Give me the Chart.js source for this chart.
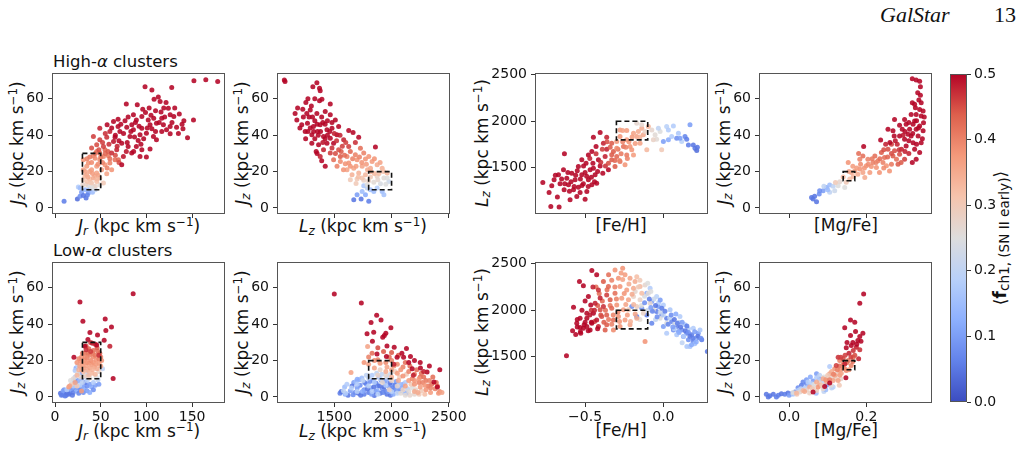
<!DOCTYPE html>
<html>
<head>
<meta charset="utf-8">
<script src="https://cdn.jsdelivr.net/npm/chart.js@4.4.1/dist/chart.umd.min.js"></script>
<style>
  body { margin: 0; background: #fff; width: 1021px; height: 450px; position: relative; overflow: hidden;
         font-family: "DejaVu Sans", sans-serif; color: #111; }
  canvas { position: absolute; }
  .lbl { position: absolute; white-space: nowrap; font-size: 17px; line-height: 1; }
  .xl { transform: translateX(-50%); }
  .yl { transform: translate(-50%, -50%) rotate(-90deg); }
  .lbl sub { font-size: 70%; vertical-align: -0.25em; line-height: 0; }
  .lbl sup { font-size: 70%; vertical-align: 0.5em; line-height: 0; }
  .cbl sub { font-size: 80%; }
  .ttl { position: absolute; font-size: 16.5px; line-height: 1; white-space: nowrap; }
  .hdr { position: absolute; font-family: "Liberation Serif", serif; font-size: 22px; line-height: 1; }
</style>
</head>
<body>
<div class="hdr" style="left:880px;top:4px;font-style:italic">GalStar</div>
<div class="hdr" style="left:994px;top:4px">13</div>

<div class="ttl" style="left:53px;top:54px">High-<i>α</i> clusters</div>
<div class="ttl" style="left:53px;top:243px">Low-<i>α</i> clusters</div>

<div class="lbl xl" style="left:139px;top:218px"><i>J</i><sub><i>r</i></sub> (kpc km s<sup>−1</sup>)</div>
<div class="lbl xl" style="left:363px;top:218px"><i>L</i><sub><i>z</i></sub> (kpc km s<sup>−1</sup>)</div>
<div class="lbl xl" style="left:621px;top:217px">[Fe/H]</div>
<div class="lbl xl" style="left:846px;top:217px">[Mg/Fe]</div>
<div class="lbl xl" style="left:139px;top:423px"><i>J</i><sub><i>r</i></sub> (kpc km s<sup>−1</sup>)</div>
<div class="lbl xl" style="left:363px;top:423px"><i>L</i><sub><i>z</i></sub> (kpc km s<sup>−1</sup>)</div>
<div class="lbl xl" style="left:621px;top:422px">[Fe/H]</div>
<div class="lbl xl" style="left:846px;top:422px">[Mg/Fe]</div>

<div class="lbl yl" style="left:17px;top:143px"><i>J</i><sub><i>z</i></sub> (kpc km s<sup>−1</sup>)</div>
<div class="lbl yl" style="left:242px;top:143px"><i>J</i><sub><i>z</i></sub> (kpc km s<sup>−1</sup>)</div>
<div class="lbl yl" style="left:482px;top:143px"><i>L</i><sub><i>z</i></sub> (kpc km s<sup>−1</sup>)</div>
<div class="lbl yl" style="left:724px;top:143px"><i>J</i><sub><i>z</i></sub> (kpc km s<sup>−1</sup>)</div>
<div class="lbl yl" style="left:17px;top:332px"><i>J</i><sub><i>z</i></sub> (kpc km s<sup>−1</sup>)</div>
<div class="lbl yl" style="left:242px;top:332px"><i>J</i><sub><i>z</i></sub> (kpc km s<sup>−1</sup>)</div>
<div class="lbl yl" style="left:482px;top:332px"><i>L</i><sub><i>z</i></sub> (kpc km s<sup>−1</sup>)</div>
<div class="lbl yl" style="left:724px;top:332px"><i>J</i><sub><i>z</i></sub> (kpc km s<sup>−1</sup>)</div>

<div class="lbl yl cbl" style="left:1000px;top:238px;font-size:17px">⟨<b>f</b><sub>ch1, (SN II early)</sub>⟩</div>

<script>
// tick values
const jzTicks = [0, 20, 40, 60];
const lzTicks = [1500, 2000, 2500];
const jrTicks = [0, 50, 100, 150];
const feTicks = [-0.5, 0.0];
const mgTicks = [0.0, 0.2];
const fTicks = [0, 0.1, 0.2, 0.3, 0.4, 0.5];

// axis ranges
const jzRange = [-3.3, 74.2];
const lzRangeY = [1005, 2517];
const jrRange = [-3.3, 186];
const lzRangeX = [1000, 2510];
const feRange = [-0.82, 0.285];
const mgRange = [-0.078, 0.37];

// dashed selection boxes [x0, x1, y0, y1]
const jrBox = [30, 50, 10, 30];
const lzBox = [1800, 2000, 10, 20];
const feBox = [-0.3, -0.1, 1800, 2000];
const mgBox = [0.14, 0.17, 15, 20];

// ---- high-alpha clusters: [x, y, f] ----
const hiJrJz = [
  [9.9,3.7,.06],[24.5,4.9,.04],[27.4,6.4,.08],[34,5.5,.05],[29,8.6,.1],[33,10,.14],[36.5,8.2,.1],[41,8.6,.15],
  [25.5,11.5,.18],[27.4,11,.15],[38,10.4,.12],[35.4,7.1,.07],[31,6.9,.05],[44,10,.2],
  [49,12.8,.26],[42,11.9,.25],[36.5,12.2,.24],[30.3,12.8,.27],[39,14,.31],[44,12,.28],[34,13,.28],[40,11,.25],
  [31,15.5,.3],[35.4,14.6,.31],[40,13.7,.3],[45.6,14.6,.32],[32.8,17.4,.33],[38,15.9,.32],[43.8,17.4,.34],[49,16.5,.33],[53,13.7,.3],
  [31,26.5,.38],[36.5,24.7,.38],[42,28.7,.4],[49,26.5,.39],[54.7,23.8,.38],[45.6,22.9,.37],[60,24.7,.4],[65.7,26.5,.42],
  [53,28.3,.4],[38,20,.36],[45.6,19.2,.36],[51,21,.37],[56.6,18.8,.36],[42,16.5,.35],[34.7,18.3,.35],[31,21,.36],[62,21,.38],
  [34.7,22.9,.37],[49,30.2,.41],[43.8,27.4,.39],[58.4,28.7,.41],[69.3,26.5,.43],[54.7,32,.43],[45.6,31,.42],
  [57,22,.4],[52,25,.4],[47,24,.39],[40,25,.39],[38,28,.41],[35,27,.4],[44,30,.42],[50,28,.41],[55,30,.43],
  [41,19,.37],[36,17,.35],[47,18,.36],[40,21,.37],[33,20,.36],[46,16,.33],
  [40,33,.45],[42,39.3,.46],[49,37.5,.46],[45.6,34.7,.45],[53,33.8,.46],[56.6,38.9,.47],[60,42,.48],[49,43.9,.48],
  [52,36,.46],[48,32,.45],[58,31,.44],[66,29,.45],[70,25,.45],[60,27,.42],[59,35,.47],[55,41,.47],[68,34,.48],
  [98.5,66.7,.5],[106,64.9,.5],[127.7,66.2,.5],[78,57.2,.5],[90,56.7,.5],[96,54.3,.5],[108.4,59.8,.5],[115,58.5,.5],
  [121.5,58,.5],[110,53.4,.5],[116,52.7,.5],[124,54.8,.5],[126,51.2,.5],[130,50.3,.5],[136,51.6,.5],[69,48.8,.5],
  [85.8,51.2,.5],[95,50.3,.5],[102,48.4,.5],[151.5,48.4,.5],[133,44.4,.5],[140,43.5,.5],[139,46,.5],[145,38.6,.5],
  [126,40.8,.5],[118.6,45.7,.5],[111,46.6,.5],[106,43.5,.5],[100,41.1,.5],[107.7,39.3,.5],[93,40.2,.5],[85.8,43,.5],
  [78.5,44.4,.5],[71,42,.5],[64,47.5,.5],[64,36.6,.49],[73,35.6,.5],[80,33.8,.5],[89,33.8,.5],[95,32,.5],[104,32.4,.5],
  [83.9,30.2,.5],[93,28.3,.5],[100,28,.5],[74.8,28.3,.49],[67.5,32,.48],[62,30.2,.47],[73,23.8,.5],[82,39.3,.5],
  [91,37.1,.5],[111,37.5,.5],[116.8,42,.5],[65.7,38.9,.5],[69,44.8,.5],[57,45.7,.5],[76.6,48,.5],[84,45.7,.5],
  [89,48.4,.5],[108,49.3,.5],[99,52.5,.5],[116.8,49.3,.5],[104,45.7,.5],[126,44.8,.5],[95,43.9,.5],
  [66,40,.5],[70,37,.5],[75,41,.5],[79,36,.5],[83,42,.5],[87,39,.5],[92,45,.5],[97,38,.5],[101,44,.5],[105,51,.5],
  [110,42,.5],[114,47,.5],[120,50,.5],[122,43,.5],[128,47,.5],[131,55,.5],[88,47,.5],[80,50,.5],[72,46,.5],[94,35,.5],
  [86,31,.5],[78,31,.49],[62,44,.5],[113,61,.5],[119,55,.5],[141,48,.5],[135,41,.5],[103,55,.5],
  [152,70,.5],[165,70.5,.5],[178,69.5,.5]
];

const hiLzJz = [
  [1670,4.6,.05],[1699,7.3,.1],[1734,4.9,.05],[1801,3.7,.06],[1772,7.3,.12],[1743,9.1,.15],[1816,10,.15],[1874,11,.18],
  [1918,9.1,.15],[1933,7.3,.16],[1787,11,.2],[1845,9.1,.15],[1757,12.2,.17],
  [1640,15.5,.3],[1699,15.9,.3],[1757,15.2,.28],[1816,17,.3],[1874,17.4,.28],[1933,16.5,.26],[1977,14.6,.22],
  [1845,14.1,.26],[1903,13.3,.24],[1787,12.8,.25],[1743,16.5,.31],[1962,16.5,.25],[1950,13,.25],[1880,15.5,.27],
  [1800,15,.28],[1690,13.5,.3],
  [1611,28.3,.4],[1684,29.2,.4],[1757,30.2,.4],[1553,25.6,.39],[1626,24.7,.38],[1699,26.5,.38],[1772,26.9,.38],
  [1830,25.6,.37],[1611,21,.36],[1670,21.9,.36],[1743,22.9,.36],[1816,21.9,.35],[1874,23.8,.35],[1524,22.9,.4],
  [1713,19.2,.34],[1772,18.3,.33],[1655,18.3,.34],[1596,24.3,.38],[1494,26.5,.42],[1728,32.9,.42],[1801,28.3,.38],
  [1918,21.9,.34],[1962,19.2,.33],[1660,27,.4],[1720,28,.4],[1740,25,.38],[1780,24,.37],[1820,20,.35],[1850,19,.33],
  [1890,19,.32],[1640,23,.38],[1580,21,.38],[1690,23,.37],[1710,17,.32],[1790,21,.35],[1850,27,.38],[1900,25,.36],
  [1930,20,.32],[1590,29,.42],[1640,31,.43],[1560,31,.44],[1510,30,.45],
  [1064,70.4,.5],[1070,69.5,.5],[1348,68.9,.5],[1313,66.7,.5],[1371,65.8,.5],[1377,64.5,.5],[1392,59.8,.5],[1371,59,.5],
  [1252,58,.5],[1465,57.2,.5],[1158,52,.5],[1225,54.3,.5],[1290,53.9,.5],[1348,52,.5],[1421,53,.5],[1465,51.2,.5],
  [1509,48.4,.5],[1173,48.4,.5],[1216,45.7,.5],[1266,46.6,.5],[1318,44.8,.5],[1377,45.7,.5],[1436,43,.5],[1480,43.9,.5],
  [1538,44.8,.5],[1246,42,.5],[1304,40.2,.5],[1354,42,.5],[1406,39.3,.5],[1465,38.4,.5],[1523,40.2,.5],[1626,42.6,.5],
  [1664,41.5,.5],[1582,37.5,.48],[1494,35.6,.5],[1436,35.6,.5],[1363,34.7,.5],[1304,35.6,.5],[1342,31,.5],[1406,32,.48],
  [1465,30.2,.46],[1538,32,.45],[1626,33.8,.46],[1684,36,.47],[1713,38.9,.5],[1859,33.5,.5],[1421,22.9,.5],
  [1553,28.3,.44],[1377,28.3,.48],[1280,50,.5],[1330,48,.5],[1390,50,.5],[1250,38,.5],[1420,46,.5],[1480,47,.5],
  [1330,38,.5],[1400,36,.49],[1200,44,.5],[1300,56,.5],[1440,40,.5],
  [1230,50,.5],[1260,52,.5],[1270,42,.5],[1290,44,.5],[1310,50,.5],[1320,42,.5],[1350,46,.5],[1360,40,.5],[1380,42,.5],
  [1400,47,.5],[1420,38,.5],[1440,48,.5],[1460,42,.5],[1500,41,.48],[1520,37,.47],[1550,40,.48],[1570,34,.46],
  [1600,36,.46],[1480,33,.47],[1270,60,.5],[1330,60,.5],[1180,55,.5],[1350,30,.5],[1390,26,.5]
];

const hiFeLz = [
  [-0.77,1343,.5],[-0.73,1236,.5],[-0.719,1086,.5],[-0.666,1079,.5],[-0.632,1650,.5],[-0.698,1371,.5],[-0.67,1425,.5],
  [-0.713,1307,.5],[-0.66,1329,.5],[-0.617,1389,.5],[-0.638,1479,.5],[-0.606,1318,.5],[-0.574,1264,.5],[-0.564,1371,.5],
  [-0.585,1443,.5],[-0.543,1514,.5],[-0.521,1425,.5],[-0.511,1329,.5],[-0.479,1371,.5],[-0.553,1193,.5],[-0.677,1186,.5],
  [-0.543,1293,.5],[-0.489,1246,.5],[-0.457,1318,.5],[-0.436,1425,.5],[-0.447,1496,.5],[-0.468,1479,.5],[-0.404,1521,.5],
  [-0.415,1586,.5],[-0.494,1550,.5],[-0.521,1586,.5],[-0.404,1879,.5],[-0.447,1829,.5],[-0.43,1729,.5],[-0.457,1675,.5],
  [-0.479,1639,.5],[-0.362,1829,.48],[-0.383,1764,.48],[-0.362,1700,.48],[-0.372,1621,.48],[-0.387,1443,.5],
  [-0.351,1479,.5],[-0.426,1336,.5],[-0.5,1164,.5],[-0.596,1157,.5],[-0.634,1264,.5],[-0.532,1236,.5],
  [-0.69,1420,.5],[-0.65,1380,.5],[-0.63,1330,.5],[-0.61,1450,.5],[-0.59,1350,.5],[-0.57,1300,.5],[-0.56,1420,.5],
  [-0.55,1470,.5],[-0.53,1380,.5],[-0.52,1310,.5],[-0.5,1450,.5],[-0.49,1410,.5],[-0.48,1300,.5],[-0.46,1400,.5],
  [-0.45,1550,.5],[-0.44,1350,.5],[-0.42,1460,.5],[-0.6,1250,.5],[-0.51,1520,.5],[-0.47,1600,.48],[-0.43,1650,.47],
  [-0.4,1560,.47],[-0.39,1700,.46],[-0.37,1520,.47],[-0.36,1780,.45],
  [-0.33,1586,.44],[-0.319,1675,.44],[-0.298,1621,.43],[-0.351,1550,.45],[-0.277,1568,.42],[-0.234,1639,.41],
  [-0.309,1514,.44],[-0.255,1729,.42],[-0.33,1764,.44],[-0.34,1720,.44],[-0.33,1640,.44],[-0.31,1580,.43],
  [-0.29,1700,.42],[-0.27,1650,.41],[-0.28,1580,.4],[-0.23,1600,.4],
  [-0.298,1782,.38],[-0.277,1836,.38],[-0.234,1800,.37],[-0.213,1729,.38],[-0.191,1639,.37],[-0.245,1532,.38],
  [-0.149,1764,.36],[-0.17,1836,.36],[-0.191,1871,.36],[-0.128,1854,.35],[-0.138,1925,.35],[-0.096,1943,.34],
  [-0.234,1900,.37],[-0.277,1907,.37],[-0.202,1693,.38],[-0.26,1900,.36],[-0.106,1693,.33],[-0.16,1889,.35],[-0.298,1711,.39],
  [-0.26,1780,.4],[-0.24,1720,.4],[-0.22,1780,.38],[-0.2,1830,.37],[-0.18,1760,.37],[-0.15,1830,.34],
  [-0.117,1889,.28],[-0.074,1907,.27],[-0.053,1854,.26],[-0.043,1807,.26],[-0.021,1889,.25],[-0.17,1979,.27],
  [-0.138,1961,.27],[-0.011,1693,.3],[-0.064,1800,.28],
  [-0.032,1925,.2],[0.021,1943,.19],[0.032,1907,.18],[0.064,1950,.18],[0.096,1871,.17],[0.053,1836,.18],[0.117,1782,.19],
  [0.0,1782,.1],[0.085,1818,.08],[0.138,1836,.07],[0.17,1961,.1],[0.149,1807,.06],[0.16,1746,.06],[0.191,1746,.05],
  [0.202,1711,.05],[0.213,1686,.04],[0.217,1721,.05],[0.032,1800,.12],[0.106,1818,.1]
];

const hiMgJz = [
  [0.058,5.8,.05],[0.062,4.9,.05],[0.071,3.5,.05],[0.066,6.4,.05],[0.078,7.7,.08],[0.088,9.5,.1],[0.097,11.3,.12],
  [0.079,9.5,.08],[0.105,12.6,.15],[0.114,11.9,.2],[0.118,9.5,.22],[0.105,8.6,.2],[0.1,10,.15],[0.09,12,.2],
  [0.127,12.2,.25],[0.131,14.4,.27],[0.148,14.1,.3],[0.144,11.3,.25],[0.12,14,.3],[0.14,17,.33],
  [0.157,15.9,.32],[0.166,17.3,.33],[0.161,19.5,.35],[0.153,25,.38],[0.17,20.4,.36],[0.178,18.6,.35],[0.183,21.4,.38],
  [0.191,19.5,.36],[0.2,23.2,.38],[0.196,16.8,.35],[0.209,19.5,.37],[0.213,22.8,.38],[0.217,25,.4],[0.226,22.3,.38],
  [0.234,19.5,.38],[0.23,25.9,.4],[0.243,25,.4],[0.252,23.2,.38],[0.26,20.4,.38],[0.191,28.6,.42],[0.183,26.8,.4],
  [0.204,26.8,.4],[0.222,28.6,.42],[0.239,30.5,.44],[0.247,27.7,.42],[0.256,32.3,.45],[0.265,35,.46],[0.269,28.6,.44],
  [0.278,26.8,.42],[0.273,31.4,.45],[0.286,29.6,.45],[0.282,24.1,.44],[0.291,32.3,.48],[0.299,26.8,.46],
  [0.265,30,.45],[0.255,28,.43],[0.245,32,.45],[0.235,27,.42],[0.225,25,.4],[0.215,27,.41],[0.205,24,.39],
  [0.195,22,.38],[0.185,24,.39],[0.175,22,.37],[0.165,23,.37],[0.155,20,.36],[0.245,22,.39],[0.265,24,.41],
  [0.29,25,.44],[0.18,30,.42],
  [0.193,33.8,.5],[0.237,37.4,.5],[0.256,43.3,.5],[0.273,48.7,.5],[0.286,39.6,.5],[0.299,37.8,.5],[0.303,34.1,.5],
  [0.293,43.3,.5],[0.303,46,.5],[0.312,43.3,.5],[0.316,39.6,.5],[0.308,40.5,.5],[0.321,35.9,.5],[0.325,32.3,.5],
  [0.329,26.8,.5],[0.319,25,.5],[0.338,30.5,.5],[0.334,39.6,.5],[0.342,35.9,.5],[0.329,43.3,.5],[0.338,45.1,.5],
  [0.347,42.4,.5],[0.348,46.9,.5],[0.325,47.8,.5],[0.316,51.4,.5],[0.329,51.4,.5],[0.342,50.5,.5],[0.338,54.2,.5],
  [0.327,55.1,.5],[0.347,53.3,.5],[0.319,57.8,.5],[0.336,59.3,.5],[0.34,66.6,.5],[0.319,71,.5],[0.329,70.3,.5],
  [0.338,69.7,.5],[0.321,46,.5],[0.299,48.7,.5],[0.286,45.5,.5],[0.272,39.6,.5],[0.261,36,.5],[0.269,42.4,.5],
  [0.342,57.8,.5],[0.333,63.3,.5],[0.31,37,.5],[0.32,41,.5],[0.33,48,.5],[0.335,44,.5],[0.345,38,.5],[0.35,50,.5],
  [0.31,47,.5],[0.3,42,.5],[0.325,57,.5],[0.34,62,.5],[0.33,35,.5],[0.295,40,.49],[0.28,35,.48],[0.285,32,.47],
  [0.275,37,.49],[0.31,30,.48],[0.3,31,.48],[0.25,35,.48]
];

// ---- low-alpha clusters: [x, y, f] ----
const loJrJz = [
  [6,2,.05],[8,1.2,.06],[10,2.5,.08],[12,1,.05],[14,3,.1],[16,2,.07],[18,4,.1],[20,2.5,.06],[22,5,.08],[24,3.5,.12],
  [26,5,.1],[28,4,.08],[30,6,.1],[32,5,.12],[35,6,.08],[38,7,.1],[40,5.5,.12],[44,6.5,.1],[9,3.5,.1],[15,1.5,.05],
  [17,6,.12],[21,9,.1],[25,9,.08],[29,10,.1],[33,8,.06],[36,12,.1],[23,16,.12],[27,13,.1],[31,2.5,.08],[19,1,.05],[11,0.5,.06],
  [13,2,.05],[7,1,.06],[10,4,.1],[26,2,.07],[35,3.5,.1],[42,4,.08],[48,7,.1],[38,2.5,.12],[23,7,.12],[19,5,.1],
  [27,9,.15],[31,11,.2],[36,10,.22],[22,11,.2],[34,14,.22],
  [22,14.5,.18],[25,17,.2],[20,6,.18],[30,8,.2],[35,9,.19],[42,8,.18],[47,9.5,.2],[52,15.5,.2],[13,4,.18],[27,6.5,.19],
  [25,13,.26],[28,11,.27],[33,11.5,.28],[38,10.5,.26],[45,11,.25],[48,14,.28],[20,10,.27],[18,7,.3],[17,9,.25],[24,6,.3],
  [29,22,.38],[32,20,.38],[35,21.5,.4],[38,23,.4],[42,22,.39],[45,20.5,.38],[48,18.5,.37],[51,20,.38],[30,17.5,.36],
  [34,17,.36],[37,18.5,.37],[40,17.8,.37],[43,16.5,.36],[46,15.5,.35],[28,19.5,.38],[33,24,.41],[37,26.5,.43],
  [42,25.5,.42],[47,25,.42],[50,22,.4],[26,15,.34],[31,14,.33],[36,14.5,.34],[40,13,.33],[44,12.5,.33],[24,12,.33],
  [22,8,.36],[15,5.5,.37],[29,3.3,.37],[16,6,.36],
  [30,24,.4],[33,22,.39],[36,24,.41],[39,20,.39],[41,24,.41],[44,23,.41],[46,27,.44],[49,24,.42],[31,19,.37],
  [35,19,.38],[38,16,.36],[42,19,.38],[45,18,.37],[48,21,.4],[34,28,.44],[39,30,.46],[44,29,.46],[29,15,.35],
  [32,16,.36],[27,17,.36],[26,21,.39],[24,19,.38],[37,12,.32],[41,15,.34],[50,17,.36],
  [85.5,56.8,.5],[27.3,52.2,.5],[30.5,41.6,.5],[54.9,42.9,.5],[55.6,36.5,.5],[61.8,38.5,.5],[38.2,35.4,.5],[46.5,34.1,.5],
  [45.5,28.6,.5],[53.8,31.2,.5],[60,27.9,.48],[63.6,10.2,.5],[36,31.6,.5],[32.7,27.9,.5],[20.7,21.9,.5],[41,29.5,.48],
  [34,26,.47],[48,23,.47],[39,25,.46]
];

const loLzJz = [
  [1550,2,.06],[1620,1,.05],[1680,2.5,.08],[1700,5,.1],[1730,1,.05],[1760,4,.08],[1780,7,.1],[1800,2.5,.06],[1820,5,.1],
  [1840,9,.12],[1860,3,.06],[1880,6,.1],[1900,2,.05],[1920,4.5,.08],[1940,8,.1],[1960,1.5,.05],[1980,5.5,.1],[2000,7,.12],
  [2020,4,.08],[2050,5,.1],[2080,3.5,.08],[2100,7,.12],[2130,2,.1],[1670,8,.1],[1720,9.5,.12],[1760,1.5,.06],[1850,0.8,.05],
  [1950,3,.06],[1990,1,.05],[2040,8.5,.1],[1890,11,.12],
  [1560,3,.05],[1590,5.5,.15],[1610,7,.18],[1640,3.5,.1],[1655,6,.05],[1690,8.5,.15],[1710,2,.05],[1725,6.5,.08],
  [1745,3,.12],[1765,8,.06],[1790,4.5,.05],[1810,8.5,.08],[1825,1.5,.1],[1845,5.5,.05],[1865,7.5,.06],[1875,3.5,.12],
  [1895,6,.05],[1910,9,.1],[1925,2.5,.07],[1935,5.5,.05],[1955,9.5,.12],[1970,3,.1],[1985,7.5,.05],[2005,5,.07],
  [2015,1.5,.12],[2030,6.5,.06],[2060,3,.1],[2070,7,.15],[2090,5,.12],[2110,2.5,.15],[2120,8,.18],[2140,4.5,.2],
  [1595,1.5,.12],[1665,1.2,.08],[1700,9.8,.12],[1740,10.5,.15],[1800,10.5,.2],[1830,12,.18],[1870,13,.2],[1915,12.5,.2],
  [1960,11,.22],[1990,12.5,.22],
  [1600,2,.18],[1650,5,.19],[1700,7,.18],[1750,9,.2],[1800,6,.19],[1850,8,.18],[1900,10,.2],[1950,6.5,.18],[2000,3,.19],
  [2050,2,.2],[1700,3,.19],[1780,12,.2],[1830,3,.18],[1880,1.5,.19],[1580,3.5,.2],
  [1900,15,.28],[1950,12,.27],[2000,9,.28],[2050,6,.27],[2100,4,.28],[2150,3,.26],[2200,1.5,.27],[1980,4,.28],[2080,2,.26],
  [1880,12,.28],[1920,8,.27],[2030,14,.29],[2160,1,.27],[2180,5,.25],[2210,4,.28],[2240,1.5,.3],[2260,3.5,.3],
  [2290,1.5,.32],[2120,1,.26],[2170,7,.3],[2070,11,.3],[2130,12.5,.3],
  [1800,22,.4],[1850,20,.39],[1900,18.5,.38],[1950,19,.39],[2000,20,.4],[2050,18,.39],[2100,16.5,.4],[2150,14,.4],[2200,12.5,.41],
  [2250,11,.42],[2300,9,.41],[2350,7,.42],[2380,4.5,.4],[2420,3,.39],[2200,7,.38],[2250,5.5,.37],[2150,9,.37],[2100,11.5,.38],
  [2050,13,.37],[2300,4,.38],[2340,2.5,.37],[2200,3,.35],[2000,15,.36],[1950,14,.35],[1850,16,.36],[1800,18,.37],[1760,19,.38],
  [1646,13.5,.36],[1791,27.7,.36],[2120,6,.36],[2180,10,.39],[2270,8,.4],[2320,6,.41],[2060,9,.35],[2000,11,.34],[2230,2.5,.35],
  [2400,6,.41],[2200,9,.38],[2240,8,.4],[2280,11,.42],[2330,9,.4],[2360,11,.42],[2290,6.5,.38],[2340,5,.4],[2390,8,.42],
  [2410,2,.38],[2260,13,.42],[2220,15,.42],[2160,17,.42],[2120,19,.42],[2080,15,.38],[2020,17,.38],[1980,22,.42],
  [1930,25,.44],[1880,20.5,.4],[1830,24,.42],[1960,16.5,.36],[1880,27,.45],[2000,24.5,.44],[2060,23,.44],[2240,10,.38],
  [2440,2.5,.36],
  [1500,56.6,.5],[1736,51.6,.5],[1821,41,.5],[1908,42.3,.5],[1844,35.6,.5],[1937,33.8,.5],[1786,34.7,.5],[1994,38,.5],
  [1923,32.8,.5],[1833,30.7,.5],[2023,27.4,.5],[2130,26.6,.5],[2165,22.3,.5],[2105,21.9,.5],[2048,21.9,.5],[1873,23.7,.5],
  [1955,22.3,.5],[2421,15,.5],[2252,16,.5],[2310,13.7,.5],[2180,15.5,.5],[2370,8.2,.5],[2400,5.5,.5],
  [2020,18,.48],[2090,24,.5],[2200,20,.5],[2250,19,.5],[2330,17,.5],[2150,19,.5],[2190,12,.48],[2280,14,.48],
  [1960,28,.5],[1870,45,.5],[1950,35,.5]
];

const loFeLz = [
  [-0.202,2039,.08],[-0.17,1932,.07],[-0.138,2021,.08],[-0.106,1950,.06],[-0.074,1861,.07],[-0.043,1986,.06],[-0.011,1950,.07],
  [0.021,1914,.06],[0.053,1879,.07],[0.085,1825,.06],[0.117,1789,.08],[0.149,1754,.07],[0.181,1736,.06],[0.213,1700,.07],
  [0.245,1682,.06],[0.281,1557,.05],[0.191,1664,.07],[0.16,1682,.08],[0.128,1718,.1],[0.064,1789,.08],[0.0,1825,.1],
  [-0.032,2039,.1],[-0.074,2093,.1],[-0.106,2182,.12],[0.096,1771,.1],[0.223,1754,.1],
  [-0.085,2236,.18],[-0.043,2146,.19],[0.0,2057,.18],[0.043,2004,.17],[0.106,1932,.18],[0.138,1843,.17],[0.191,1807,.18],
  [0.17,1611,.16],[0.202,1700,.18],[0.234,1789,.17],[0.085,1736,.17],[0.021,1754,.18],
  [-0.191,2146,.28],[-0.149,2111,.28],[-0.117,2271,.27],[-0.096,2182,.26],[-0.17,2039,.29],[-0.128,1968,.28],[-0.085,2075,.27],
  [-0.064,2004,.26],[-0.021,1914,.25],[0.021,1861,.24],[0.074,1861,.23],[-0.223,2004,.3],
  [-0.14,2050,.25],[-0.12,2150,.24],[-0.1,2000,.22],[-0.08,2200,.25],[-0.06,2120,.22],[-0.05,1900,.2],[-0.03,2080,.18],
  [-0.02,1980,.22],[-0.1,2290,.25],[-0.18,2200,.27],[-0.15,1900,.26],[0.0,1950,.2],[0.04,1920,.2],[0.07,1800,.19],
  [0.1,1870,.2],[0.13,1720,.18],[0.16,1800,.18],[0.2,1640,.16],[0.15,1610,.17],[0.12,1650,.2],
  [-0.309,2432,.38],[-0.26,2450,.38],[-0.287,2343,.38],[-0.245,2379,.37],[-0.213,2343,.36],[-0.181,2307,.35],[-0.277,2254,.38],
  [-0.234,2218,.37],[-0.191,2236,.35],[-0.149,2254,.33],[-0.266,2129,.37],[-0.223,2111,.36],[-0.298,2057,.38],[-0.255,2004,.37],
  [-0.287,1932,.38],[-0.245,1896,.37],[-0.277,1825,.38],[-0.213,1843,.36],[-0.17,1914,.35],[-0.117,1664,.38],[-0.319,1789,.39],
  [-0.138,2182,.32],
  [-0.43,2250,.42],[-0.41,2180,.42],[-0.39,2100,.43],[-0.37,2000,.42],[-0.35,1900,.41],[-0.33,2320,.4],[-0.31,2250,.4],
  [-0.3,2120,.4],[-0.29,1980,.4],[-0.28,1880,.38],[-0.26,2330,.36],[-0.25,2180,.38],[-0.24,2060,.36],[-0.23,1950,.37],
  [-0.22,2280,.35],[-0.2,2170,.35],[-0.19,2060,.33],[-0.18,1960,.36],[-0.17,2360,.32],[-0.16,2250,.3],[-0.15,2320,.3],
  [-0.42,2050,.44],[-0.4,1950,.45],[-0.38,1870,.44],[-0.36,2220,.42],[-0.34,2050,.41],[-0.32,1950,.4],[-0.27,2400,.37],
  [-0.35,2380,.42],[-0.44,1880,.46],[-0.46,2000,.47],[-0.33,1850,.4],[-0.21,1880,.34],
  [-0.383,2307,.44],[-0.351,2254,.43],[-0.34,2111,.44],[-0.33,2021,.43],[-0.362,1950,.44],[-0.319,1896,.42],[-0.362,1843,.44],
  [-0.394,1932,.45],[-0.372,1789,.44],[-0.309,2182,.42],[-0.404,2004,.45],
  [-0.12,2080,.08],[-0.09,2120,.06],[-0.07,1990,.07],[-0.05,2050,.05],[-0.04,1930,.08],[-0.02,2110,.1],[0.01,1990,.06],
  [0.03,1850,.07],[0.05,1950,.08],[0.07,1900,.05],[0.09,1860,.06],[0.11,1820,.05],[0.12,1870,.1],[0.14,1780,.05],
  [0.16,1760,.08],[0.17,1720,.05],[0.19,1700,.06],[0.2,1770,.1],[0.22,1720,.05],[0.24,1700,.08],[0.21,1660,.12],
  [0.18,1630,.12],[0.06,1820,.1],[0.1,1760,.12],[-0.08,2030,.1],[-0.01,2020,.06],[0.15,1830,.06],[0.08,1960,.12],
  [-0.619,1511,.5],[-0.574,2032,.5],[-0.536,2307,.5],[-0.511,2261,.5],[-0.532,1914,.5],[-0.506,1843,.5],[-0.489,1825,.5],
  [-0.528,1754,.5],[-0.457,2425,.5],[-0.426,2379,.5],[-0.479,2146,.5],[-0.464,2057,.5],[-0.447,1968,.5],[-0.489,1968,.5],
  [-0.511,1807,.5],[-0.457,1861,.5],[-0.426,1896,.49],[-0.415,1825,.48],[-0.468,1789,.5],[-0.532,1814,.5],[-0.404,2132,.48],
  [-0.383,2039,.47],[-0.362,2164,.46],[-0.436,2075,.48],[-0.415,2218,.47],[-0.489,1914,.5],[-0.553,1861,.5],
  [-0.58,1780,.5],[-0.55,1900,.5],[-0.52,2000,.5],[-0.5,1870,.5],[-0.48,1780,.5],[-0.46,1870,.5],[-0.47,1950,.49],
  [-0.44,2000,.48],[-0.42,1800,.5],[-0.5,2100,.5],[-0.45,2250,.48],[-0.55,1820,.5],[-0.53,1770,.5],[-0.56,1740,.5]
];

const loMgJz = [
  [-0.059,1.5,.05],[-0.05,0.7,.05],[-0.041,1.5,.05],[-0.028,0.9,.06],[-0.02,1.8,.05],[-0.011,1.5,.06],[-0.003,2.2,.05],
  [0.006,1.8,.07],[0.015,2.7,.06],[0.023,5.1,.08],[0.032,6.4,.06],[0.045,7.3,.08],[0.062,8.8,.1],[0.079,10,.08],
  [0.071,12.8,.1],[0.097,6.4,.1],[-0.054,0,.05],[-0.033,0,.06],[0.036,8.2,.07],[0.0,1,.1],[0.05,6,.15],[0.08,9,.2],
  [0.07,2,.15],[0.09,3,.2],[0.11,5,.2],[0.045,9.5,.1],[0.055,11,.12],[0.095,4,.15],
  [0.01,1.5,.18],[0.023,3.6,.19],[0.041,5.1,.18],[0.058,7.3,.19],[0.071,10.6,.18],[0.088,8.2,.2],[0.114,5.5,.19],
  [0.079,11.9,.2],[0.105,16.8,.18],[0.049,8.2,.19],[0.03,4.5,.2],
  [0.028,2.7,.27],[0.045,4,.28],[0.062,5.5,.27],[0.079,7.7,.28],[0.097,10,.26],[0.109,11,.27],[0.122,12.8,.28],
  [0.071,3.6,.29],[0.088,4.6,.27],[0.053,2.2,.28],[0.109,6.4,.26],[0.134,10,.27],[0.01,2.5,.25],[0.02,1.5,.3],
  [0.065,7,.25],[0.09,11,.25],[0.12,10.5,.28],[0.13,6.5,.3],
  [0.131,20,.4],[0.14,18.2,.4],[0.153,20,.41],[0.161,17.3,.4],[0.166,21.9,.42],[0.118,15.5,.38],[0.131,14.6,.38],
  [0.144,15.5,.39],[0.105,12.8,.36],[0.118,11.9,.36],[0.088,10,.35],[0.071,8.2,.35],[0.053,5.5,.34],[0.036,3.6,.33],
  [0.019,2.2,.33],[0.079,6.4,.34],[0.097,8.2,.35],[0.114,9.1,.36],[0.131,11.9,.37],[0.148,14.6,.39],[0.127,9.1,.36],
  [0.04,3,.35],[0.06,4.5,.3],[0.075,5.5,.38],[0.085,6.5,.3],[0.095,9.5,.38],[0.1,12,.3],[0.105,9.5,.4],[0.11,14,.35],
  [0.115,12.5,.4],[0.125,15,.4],[0.13,17,.42],[0.135,13,.36],[0.155,15,.38],[0.14,16,.4],[0.165,19.5,.42],
  [0.14,21,.45],[0.145,23,.46],[0.15,19,.42],[0.155,24,.48],[0.16,22,.46],[0.17,23,.45],[0.18,21,.48],
  [0.193,56.6,.5],[0.183,51.5,.5],[0.159,42.3,.5],[0.17,41.1,.5],[0.144,38,.5],[0.172,36,.5],[0.191,35,.5],[0.183,33.2,.5],
  [0.159,33.8,.5],[0.178,31,.5],[0.186,30.7,.5],[0.161,28.3,.5],[0.174,27.4,.48],[0.148,27,.5],[0.166,25.5,.47],
  [0.183,25.9,.47],[0.144,18.2,.48],[0.127,21.9,.47],[0.147,10.6,.5],[0.092,5.8,.5],[0.062,2.7,.5],[0.105,7.7,.5],
  [0.122,17.3,.46],[0.134,21.9,.46],[0.175,29,.5],[0.165,30,.5],[0.15,30,.5]
];

// coolwarm colour map, vmin 0, vmax 0.5
const COOLWARM = [[59,76,192],[98,130,234],[141,176,254],[184,208,249],[221,221,221],
                  [245,196,173],[244,154,123],[222,96,77],[180,4,38]];
function cmap(f, alpha) {
  const t = Math.max(0, Math.min(1, f / 0.5)) * 8;
  const i = Math.min(7, Math.floor(t));
  const u = t - i;
  const a = COOLWARM[i], b = COOLWARM[i + 1];
  const c = a.map((v, k) => Math.round(v + (b[k] - v) * u));
  return `rgba(${c[0]},${c[1]},${c[2]},${alpha})`;
}

const COLS = [52, 277, 535, 759];
const ROWS = [73, 262];
const PW = 173, PH = 141;
const PAD = { l: 62, r: 24, t: 12, b: 30 };

const framePlugin = {
  id: "frame",
  afterDatasetsDraw(chart, args, opts) {
    const { ctx, chartArea: a, scales } = chart;
    ctx.save();
    if (opts.box) {
      const b = opts.box;
      const x0 = scales.x.getPixelForValue(b[0]), x1 = scales.x.getPixelForValue(b[1]);
      const y0 = scales.y.getPixelForValue(b[2]), y1 = scales.y.getPixelForValue(b[3]);
      ctx.strokeStyle = "#111";
      ctx.lineWidth = 1.6;
      ctx.setLineDash([5, 3]);
      ctx.strokeRect(x0, y1, x1 - x0, y0 - y1);
      ctx.setLineDash([]);
    }
    ctx.strokeStyle = "#555";
    ctx.lineWidth = 1;
    ctx.strokeRect(a.left + 0.5, a.top + 0.5, a.right - a.left - 1, a.bottom - a.top - 1);
    ctx.restore();
  },
};

function fmtNum(v) { return String(v); }
function fmtDec(v) { return v.toFixed(1).replace("-", "\u2212"); }

function makePanel(col, row, pts, xr, yr, xt, yt, box, fmtX, showX) {
  const cv = document.createElement("canvas");
  const w = PW + PAD.l + PAD.r, h = PH + PAD.t + PAD.b;
  cv.width = w; cv.height = h;
  cv.style.left = (COLS[col] - PAD.l) + "px";
  cv.style.top = (ROWS[row] - PAD.t) + "px";
  cv.style.width = w + "px"; cv.style.height = h + "px";
  document.body.appendChild(cv);
  const tickFont = { family: "'DejaVu Sans', sans-serif", size: 14 };
  return new Chart(cv, {
    type: "scatter",
    data: {
      datasets: [{
        data: pts.map((p) => ({ x: p[0], y: p[1] })),
        backgroundColor: pts.map((p) => cmap(p[2], 0.88)),
        pointRadius: 2.5,
        pointBorderWidth: 0,
        pointHoverRadius: 2.5,
      }],
    },
    options: {
      responsive: false,
      devicePixelRatio: 1,
      animation: false,
      events: [],
      layout: { padding: { left: 0, top: PAD.t, right: PAD.r, bottom: 0 } },
      plugins: { legend: { display: false }, tooltip: { enabled: false }, frame: { box } },
      scales: {
        x: {
          type: "linear", min: xr[0], max: xr[1],
          afterBuildTicks: (s) => { s.ticks = xt.map((v) => ({ value: v })); },
          afterFit: (s) => { s.height = PAD.b; s.paddingLeft = 0; s.paddingRight = 0; },
          ticks: { autoSkip: false, maxRotation: 0, padding: 2, color: "#111", font: tickFont,
                   callback: (v) => (showX ? fmtX(v) : "") },
          grid: { drawOnChartArea: false, tickLength: 4, tickColor: "#333" },
          border: { display: false },
        },
        y: {
          type: "linear", min: yr[0], max: yr[1],
          afterBuildTicks: (s) => { s.ticks = yt.map((v) => ({ value: v })); },
          afterFit: (s) => { s.width = PAD.l; s.paddingTop = 0; s.paddingBottom = 0; },
          ticks: { autoSkip: false, padding: 4, color: "#111", font: tickFont, callback: fmtNum },
          grid: { drawOnChartArea: false, tickLength: 4, tickColor: "#333" },
          border: { display: false },
        },
      },
    },
    plugins: [framePlugin],
  });
}

makePanel(0, 0, hiJrJz, jrRange, jzRange, jrTicks, jzTicks, jrBox, fmtNum, false);
makePanel(1, 0, hiLzJz, lzRangeX, jzRange, lzTicks, jzTicks, lzBox, fmtNum, false);
makePanel(2, 0, hiFeLz, feRange, lzRangeY, feTicks, lzTicks, feBox, fmtDec, false);
makePanel(3, 0, hiMgJz, mgRange, jzRange, mgTicks, jzTicks, mgBox, fmtDec, false);
makePanel(0, 1, loJrJz, jrRange, jzRange, jrTicks, jzTicks, jrBox, fmtNum, true);
makePanel(1, 1, loLzJz, lzRangeX, jzRange, lzTicks, jzTicks, lzBox, fmtNum, true);
makePanel(2, 1, loFeLz, feRange, lzRangeY, feTicks, lzTicks, feBox, fmtDec, true);
makePanel(3, 1, loMgJz, mgRange, jzRange, mgTicks, jzTicks, mgBox, fmtDec, true);

// colour bar
(function () {
  const left = 950, top = 74, cw = 17, ch = 328, padR = 45, padT = 10, padB = 10;
  const cv = document.createElement("canvas");
  cv.width = cw + padR; cv.height = ch + padT + padB;
  cv.style.left = left + "px"; cv.style.top = (top - padT) + "px";
  cv.style.width = cv.width + "px"; cv.style.height = cv.height + "px";
  document.body.appendChild(cv);
  const barPlugin = {
    id: "bar",
    beforeDatasetsDraw(chart) {
      const { ctx, chartArea: a } = chart;
      const g = ctx.createLinearGradient(0, a.bottom, 0, a.top);
      for (let i = 0; i <= 40; i++) g.addColorStop(i / 40, cmap(0.5 * i / 40, 1));
      ctx.save();
      ctx.fillStyle = g;
      ctx.fillRect(a.left, a.top, a.right - a.left, a.bottom - a.top);
      ctx.strokeStyle = "#555";
      ctx.lineWidth = 1;
      ctx.strokeRect(a.left + 0.5, a.top + 0.5, a.right - a.left - 1, a.bottom - a.top - 1);
      ctx.restore();
    },
  };
  new Chart(cv, {
    type: "scatter",
    data: { datasets: [{ data: [] }] },
    options: {
      responsive: false, devicePixelRatio: 1, animation: false, events: [],
      layout: { padding: { left: 0, top: padT, right: 0, bottom: padB } },
      plugins: { legend: { display: false }, tooltip: { enabled: false } },
      scales: {
        x: { display: false, min: 0, max: 1 },
        y: {
          position: "right", min: 0, max: 0.5,
          afterBuildTicks: (s) => { s.ticks = fTicks.map((v) => ({ value: v })); },
          afterFit: (s) => { s.width = padR; s.paddingTop = 0; s.paddingBottom = 0; },
          ticks: { autoSkip: false, padding: 3, color: "#111",
                   font: { family: "'DejaVu Sans', sans-serif", size: 14 },
                   callback: (v) => v.toFixed(1) },
          grid: { drawOnChartArea: false, tickLength: 4, tickColor: "#333" },
          border: { display: false },
        },
      },
    },
    plugins: [barPlugin],
  });
})();
</script>
</body>
</html>
